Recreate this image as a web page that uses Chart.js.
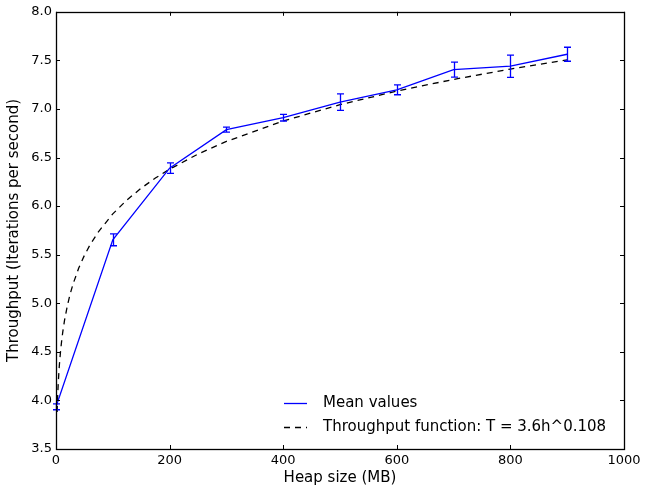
<!DOCTYPE html>
<html>
<head>
<meta charset="utf-8">
<script src="https://cdn.jsdelivr.net/npm/chart.js@4.4.0/dist/chart.umd.min.js"></script>
<style>
  html, body { margin: 0; padding: 0; background: #ffffff; }
  #wrap { width: 645px; height: 489px; }
</style>
</head>
<body>
<div id="wrap"><canvas id="c" width="645" height="489"></canvas></div>
<script>
// Measured data (heap size in MB, mean throughput, error half-width)
const heapSizes = [0, 100, 200, 300, 400, 500, 600, 700, 800, 900];
const meanValues = [3.934, 5.653, 6.391, 6.787, 6.910, 7.071, 7.197, 7.405, 7.440, 7.563];
const errorValues = [0.030, 0.061, 0.055, 0.025, 0.034, 0.085, 0.051, 0.077, 0.114, 0.072];
// Dashed fitted curve
const fitHeap = [2, 3, 4, 5, 6, 8, 10, 12, 15, 20, 25, 30, 40, 50, 60, 75, 100, 125, 150, 175, 200, 250, 300, 400, 500, 600, 700, 800, 900];
const fitValues = [3.880, 4.054, 4.181, 4.283, 4.369, 4.506, 4.616, 4.708, 4.823, 4.975, 5.097, 5.198, 5.362, 5.493, 5.602, 5.738, 5.920, 6.064, 6.185, 6.289, 6.380, 6.536, 6.666, 6.876, 7.044, 7.184, 7.304, 7.411, 7.506];
const xTicks = [0, 200, 400, 600, 800, 1000];
const yTicks = [3.5, 4.0, 4.5, 5.0, 5.5, 6.0, 6.5, 7.0, 7.5, 8.0];
const legendLabels = ['Mean values', 'Throughput function: T = 3.6h^0.108'];

const FONT = "'DejaVu Sans', sans-serif";

const meanData = heapSizes.map((x, i) => ({ x: x, y: meanValues[i] }));
const fitData = fitHeap.map((x, i) => ({ x: x, y: fitValues[i] }));

const framePlugin = {
  id: 'frame',
  afterDatasetsDraw(chart) {
    const ctx = chart.ctx;
    const xs = chart.scales.x, ys = chart.scales.y;
    // error bars
    ctx.save();
    ctx.strokeStyle = '#0000ff';
    ctx.lineWidth = 1.3;
    heapSizes.forEach((h, i) => {
      const px = Math.round(xs.getPixelForValue(h)) + 0.5;
      const top = ys.getPixelForValue(meanValues[i] + errorValues[i]);
      const bot = ys.getPixelForValue(meanValues[i] - errorValues[i]);
      ctx.beginPath();
      ctx.moveTo(px, top); ctx.lineTo(px, bot);
      ctx.moveTo(px - 3.5, top); ctx.lineTo(px + 3.5, top);
      ctx.moveTo(px - 3.5, bot); ctx.lineTo(px + 3.5, bot);
      ctx.stroke();
    });
    ctx.restore();
  },
  afterDraw(chart) {
    const ctx = chart.ctx;
    const a = chart.chartArea;
    const xs = chart.scales.x, ys = chart.scales.y;
    ctx.save();
    ctx.strokeStyle = '#000000';
    ctx.lineWidth = 1;
    // ticks inward on all four sides
    ctx.beginPath();
    xTicks.forEach(v => {
      const px = Math.round(xs.getPixelForValue(v)) + 0.5;
      ctx.moveTo(px, a.bottom); ctx.lineTo(px, a.bottom - 4);
      ctx.moveTo(px, a.top); ctx.lineTo(px, a.top + 4);
    });
    yTicks.forEach(v => {
      const py = Math.round(ys.getPixelForValue(v)) + 0.5;
      ctx.moveTo(a.left, py); ctx.lineTo(a.left + 4, py);
      ctx.moveTo(a.right, py); ctx.lineTo(a.right - 4, py);
    });
    ctx.stroke();
    // frame
    ctx.lineWidth = 1.3;
    ctx.strokeRect(Math.round(a.left) + 0.5, Math.round(a.top) + 0.5,
                   Math.round(a.right - a.left), Math.round(a.bottom - a.top));
    // legend (no frame), inside plot at lower right
    const lx0 = 284, lx1 = 307, tx = 323;
    const rows = [403, 427];
    ctx.font = '15px ' + FONT;
    ctx.textBaseline = 'middle';
    ctx.fillStyle = '#000000';
    ctx.strokeStyle = '#0000ff';
    ctx.lineWidth = 1.3;
    ctx.setLineDash([]);
    ctx.beginPath(); ctx.moveTo(lx0, rows[0] + 0.5); ctx.lineTo(lx1, rows[0] + 0.5); ctx.stroke();
    ctx.fillText(legendLabels[0], tx, rows[0]);
    ctx.strokeStyle = '#000000';
    ctx.setLineDash([6, 5]);
    ctx.beginPath(); ctx.moveTo(lx0, rows[1] + 0.5); ctx.lineTo(lx1, rows[1] + 0.5); ctx.stroke();
    ctx.setLineDash([]);
    ctx.fillText(legendLabels[1], tx, rows[1]);
    ctx.restore();
  }
};

new Chart(document.getElementById('c'), {
  type: 'scatter',
  data: {
    datasets: [
      {
        label: legendLabels[0],
        data: meanData,
        showLine: true,
        borderColor: '#0000ff',
        borderWidth: 1.3,
        pointRadius: 0,
        fill: false,
        tension: 0
      },
      {
        label: legendLabels[1],
        data: fitData,
        showLine: true,
        borderColor: '#000000',
        borderWidth: 1.3,
        borderDash: [6, 5],
        pointRadius: 0,
        fill: false,
        tension: 0
      }
    ]
  },
  options: {
    responsive: false,
    animation: false,
    layout: { padding: { left: 0, right: 21, top: 10, bottom: 0 } },
    plugins: {
      legend: { display: false },
      tooltip: { enabled: false }
    },
    scales: {
      x: {
        type: 'linear',
        min: 0, max: 1000,
        afterBuildTicks(scale) { scale.ticks = xTicks.map(v => ({ value: v })); },
        afterFit(scale) { scale.height = 40; },
        grid: { display: false, drawTicks: false },
        border: { display: false },
        ticks: {
          color: '#000000',
          font: { family: FONT, size: 13 },
          padding: 4,
          maxRotation: 0,
          callback: v => String(v)
        },
        title: {
          display: true,
          text: 'Heap size (MB)',
          color: '#000000',
          font: { family: FONT, size: 15 },
          padding: { top: 2, bottom: 2 }
        }
      },
      y: {
        type: 'linear',
        min: 3.5, max: 8.0,
        afterBuildTicks(scale) { scale.ticks = yTicks.map(v => ({ value: v })); },
        afterFit(scale) { scale.width = 56; },
        grid: { display: false, drawTicks: false },
        border: { display: false },
        ticks: {
          color: '#000000',
          font: { family: FONT, size: 13 },
          padding: 4,
          callback: v => Number(v).toFixed(1)
        },
        title: {
          display: true,
          text: 'Throughput (Iterations per second)',
          color: '#000000',
          font: { family: FONT, size: 15 },
          padding: { top: 5, bottom: 0 }
        }
      }
    }
  },
  plugins: [framePlugin]
});
</script>
</body>
</html>
